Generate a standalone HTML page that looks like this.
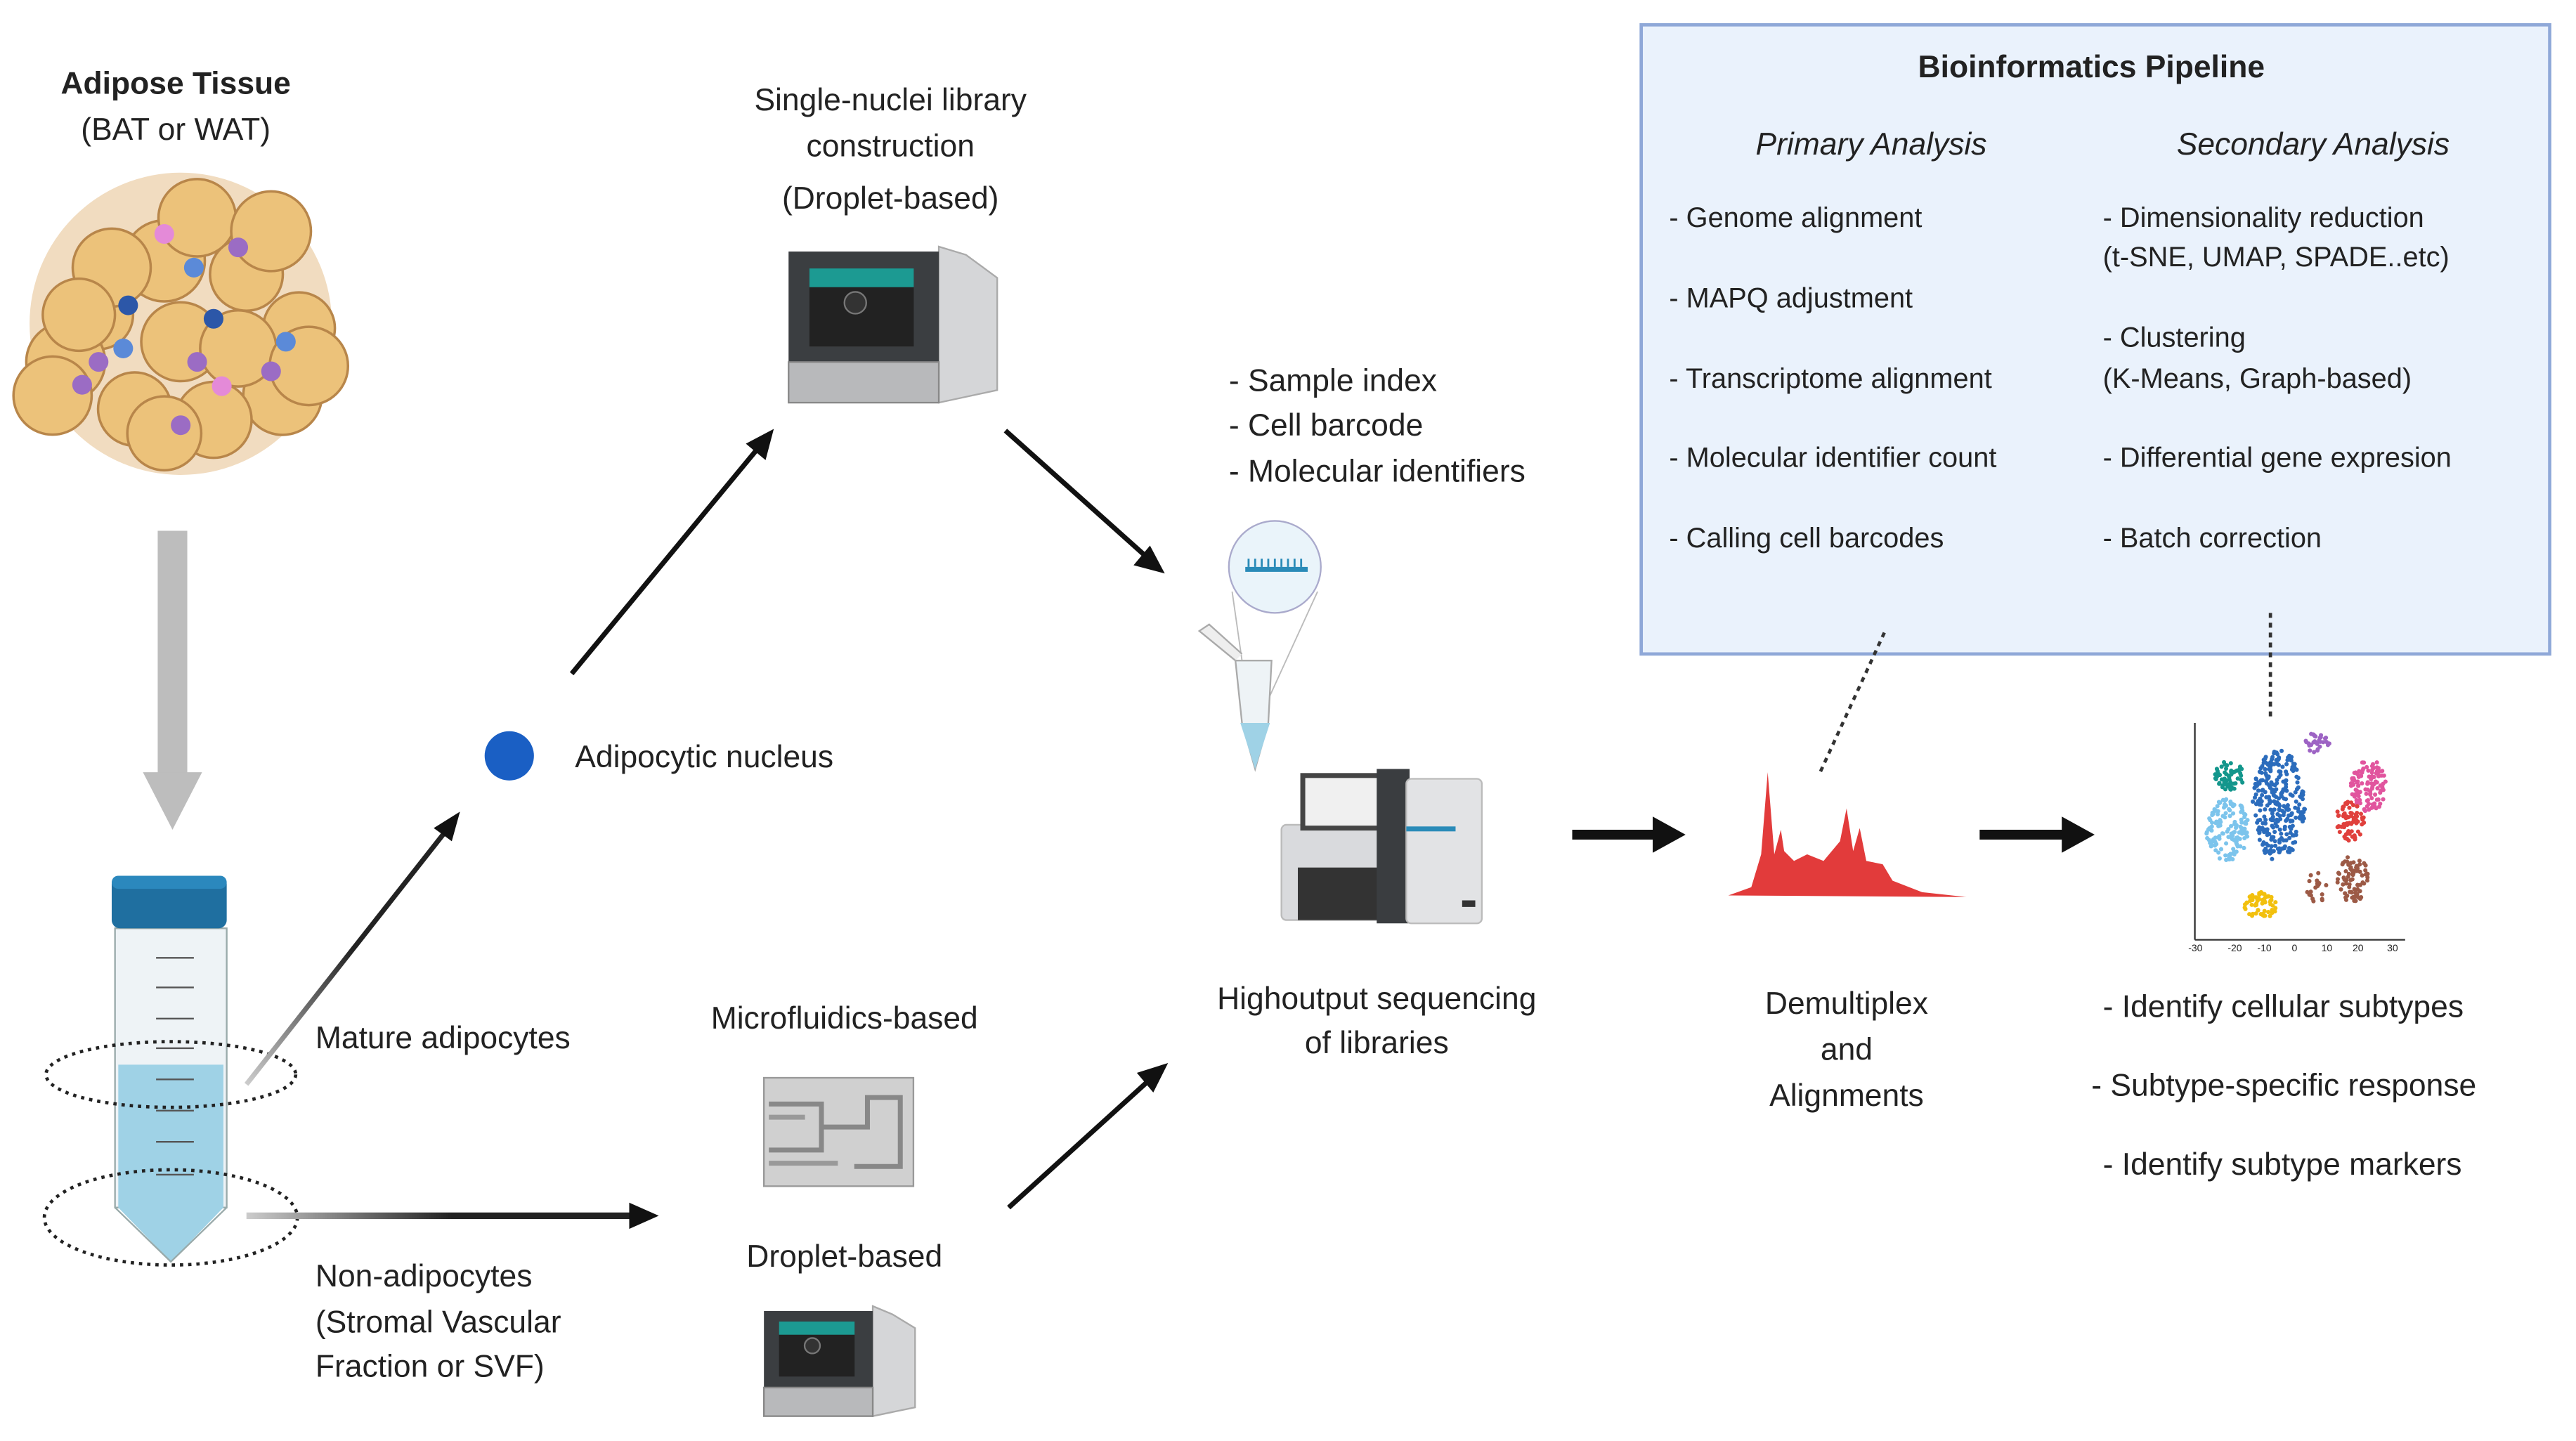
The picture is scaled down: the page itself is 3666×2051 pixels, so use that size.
<!DOCTYPE html>
<html><head><meta charset="utf-8">
<style>
html,body{margin:0;padding:0;background:#fff;}
svg{display:block;}
text{font-family:"Liberation Sans",sans-serif;fill:#222;}
</style></head>
<body>
<svg id="s" width="3666" height="2051" viewBox="0 0 1568 877" xmlns="http://www.w3.org/2000/svg">
<defs>
<linearGradient id="hg" gradientUnits="userSpaceOnUse" x1="150" y1="740" x2="400" y2="740"><stop offset="0" stop-color="#ccc"/><stop offset="0.5" stop-color="#222"/></linearGradient>
<linearGradient id="dg" gradientUnits="userSpaceOnUse" x1="150" y1="660" x2="280" y2="495"><stop offset="0" stop-color="#ccc"/><stop offset="0.5" stop-color="#222"/></linearGradient>
</defs>

<!-- Bioinformatics box -->
<rect x="999" y="15" width="553" height="383" fill="#eaf2fc" stroke="#8fa8d8" stroke-width="2"/>
<text x="1273" y="47" font-size="19" font-weight="bold" text-anchor="middle">Bioinformatics Pipeline</text>
<text x="1139" y="94" font-size="19" font-style="italic" text-anchor="middle">Primary Analysis</text>
<text x="1408" y="94" font-size="19" font-style="italic" text-anchor="middle">Secondary Analysis</text>
<g font-size="17">
<text x="1016" y="138">- Genome alignment</text>
<text x="1016" y="187">- MAPQ adjustment</text>
<text x="1016" y="236">- Transcriptome alignment</text>
<text x="1016" y="284">- Molecular identifier count</text>
<text x="1016" y="333">- Calling cell barcodes</text>
<text x="1280" y="138">- Dimensionality reduction</text>
<text x="1280" y="162">(t-SNE, UMAP,  SPADE..etc)</text>
<text x="1280" y="211">- Clustering</text>
<text x="1280" y="236">(K-Means, Graph-based)</text>
<text x="1280" y="284">- Differential gene expresion</text>
<text x="1280" y="333">- Batch correction</text>
</g>
<line x1="1147" y1="385" x2="1107" y2="472" stroke="#333" stroke-width="2" stroke-dasharray="3,3"/>
<line x1="1382" y1="373" x2="1382" y2="438" stroke="#333" stroke-width="2" stroke-dasharray="3,3"/>

<!-- Adipose tissue -->
<text x="107" y="57" font-size="19" font-weight="bold" text-anchor="middle">Adipose Tissue</text>
<text x="107" y="85" font-size="19" text-anchor="middle">(BAT or WAT)</text>
<g id="tissue" stroke="#b8864a" stroke-width="1.5"></g>

<!-- gray arrow -->
<rect x="96" y="323" width="18" height="150" fill="#bdbdbd"/>
<polygon points="87,470 123,470 105,505" fill="#bdbdbd"/>

<!-- tube -->
<rect x="70" y="565" width="68" height="170" fill="#eef3f6" stroke="#9aa" stroke-width="1"/>
<path d="M72,648 L136,648 L136,735 L104,768 L72,735 Z" fill="#9fd2e6"/>
<path d="M70,735 L104,768 L138,735" fill="none" stroke="#9aa"/>
<rect x="68" y="533" width="70" height="32" rx="5" fill="#1f6fa0"/>
<rect x="68" y="533" width="70" height="8" rx="4" fill="#2b88bd"/>
<g stroke="#555" stroke-width="1">
<line x1="95" y1="583" x2="118" y2="583"/><line x1="95" y1="601" x2="118" y2="601"/><line x1="95" y1="620" x2="118" y2="620"/><line x1="95" y1="638" x2="118" y2="638"/><line x1="95" y1="657" x2="118" y2="657"/><line x1="95" y1="676" x2="118" y2="676"/><line x1="95" y1="695" x2="118" y2="695"/><line x1="95" y1="715" x2="118" y2="715"/>
</g>
<ellipse cx="104" cy="654" rx="76" ry="20" fill="none" stroke="#222" stroke-width="2" stroke-dasharray="2,3"/>
<ellipse cx="104" cy="741" rx="77" ry="29" fill="none" stroke="#222" stroke-width="2" stroke-dasharray="2,3"/>

<!-- arrows left -->
<line x1="150" y1="660" x2="272" y2="505" stroke="url(#dg)" stroke-width="3"/>
<polygon points="280,494 264,504 275,512" fill="#111"/>
<rect x="150" y="738" width="236" height="4" fill="url(#hg)"/>
<polygon points="401,740 383,732 383,748" fill="#111"/>

<text x="192" y="638" font-size="19">Mature adipocytes</text>
<text x="192" y="783" font-size="19">Non-adipocytes</text>
<text x="192" y="811" font-size="19">(Stromal Vascular</text>
<text x="192" y="838" font-size="19">Fraction or SVF)</text>

<circle cx="310" cy="460" r="15" fill="#1a5fc4"/>
<text x="350" y="467" font-size="19">Adipocytic nucleus</text>

<line x1="348" y1="410" x2="462" y2="272" stroke="#111" stroke-width="3"/>
<polygon points="471,261 454,270 466,280" fill="#111"/>
<line x1="612" y1="262" x2="698" y2="339" stroke="#111" stroke-width="3"/>
<polygon points="709,349 700,332 690,344" fill="#111"/>
<line x1="614" y1="735" x2="700" y2="657" stroke="#111" stroke-width="3"/>
<polygon points="711,647 692,653 702,665" fill="#111"/>

<!-- top instrument -->
<text x="542" y="67" font-size="19" text-anchor="middle">Single-nuclei library</text>
<text x="542" y="95" font-size="19" text-anchor="middle">construction</text>
<text x="542" y="127" font-size="19" text-anchor="middle">(Droplet-based)</text>
<g id="inst1"></g>

<!-- microfluidics -->
<text x="514" y="626" font-size="19" text-anchor="middle">Microfluidics-based</text>
<rect x="465" y="656" width="91" height="66" fill="#d0d0d0" stroke="#999"/>
<path d="M468,672 H500 V700 H468 M500,686 H528 V668 H548 V710 H520" fill="none" stroke="#888" stroke-width="3"/>
<path d="M468,708 H510 M468,680 H490" fill="none" stroke="#999" stroke-width="3"/>
<text x="514" y="771" font-size="19" text-anchor="middle">Droplet-based</text>
<g id="inst2"></g>

<!-- sample index -->
<text x="748" y="238" font-size="19">- Sample index</text>
<text x="748" y="265" font-size="19">- Cell barcode</text>
<text x="748" y="293" font-size="19">- Molecular identifiers</text>
<circle cx="776" cy="345" r="28" fill="#eaf4fa" stroke="#aac" stroke-width="1"/>
<rect x="758" y="345" width="38" height="3" fill="#2a8bb8"/>
<g stroke="#2a8bb8" stroke-width="1.2"><line x1="760" y1="340" x2="760" y2="345"/><line x1="764" y1="340" x2="764" y2="345"/><line x1="768" y1="340" x2="768" y2="345"/><line x1="772" y1="340" x2="772" y2="345"/><line x1="776" y1="340" x2="776" y2="345"/><line x1="780" y1="340" x2="780" y2="345"/><line x1="784" y1="340" x2="784" y2="345"/><line x1="788" y1="340" x2="788" y2="345"/><line x1="792" y1="340" x2="792" y2="345"/></g>
<line x1="750" y1="360" x2="760" y2="430" stroke="#bbb" stroke-width="0.8"/>
<line x1="802" y1="360" x2="770" y2="430" stroke="#bbb" stroke-width="0.8"/>
<path d="M752,402 L774,402 L772,440 L764,468 L756,440 Z" fill="#eef3f6" stroke="#aaa"/>
<path d="M755,440 L773,440 L764,468 Z" fill="#9fd2e6"/>
<path d="M752,402 L730,384 L736,380 L756,398" fill="#eee" stroke="#aaa"/>

<!-- sequencer -->
<rect x="780" y="502" width="62" height="58" rx="3" fill="#d9dadd" stroke="#bbb"/>
<rect x="793" y="472" width="48" height="32" fill="#f0f0f0" stroke="#444" stroke-width="3"/>
<rect x="790" y="528" width="50" height="32" fill="#333"/>
<rect x="838" y="468" width="20" height="94" fill="#3a3d40"/>
<rect x="856" y="474" width="46" height="88" rx="3" fill="#e2e3e5" stroke="#bbb"/>
<rect x="856" y="503" width="30" height="3" fill="#2a8bb8"/>
<rect x="890" y="548" width="8" height="4" fill="#333"/>
<text x="838" y="614" font-size="19" text-anchor="middle">Highoutput sequencing</text>
<text x="838" y="641" font-size="19" text-anchor="middle">of libraries</text>

<!-- arrows right -->
<rect x="957" y="505" width="52" height="6" fill="#111"/>
<polygon points="1026,508 1006,497 1006,519" fill="#111"/>
<rect x="1205" y="505" width="52" height="6" fill="#111"/>
<polygon points="1275,508 1255,497 1255,519" fill="#111"/>

<!-- peaks -->
<path d="M1052,545 L1066,540 L1072,520 L1076,470 L1080,520 L1084,505 L1086,518 L1092,524 L1100,520 L1110,524 L1120,512 L1124,492 L1128,518 L1132,504 L1136,524 L1146,526 L1152,536 L1170,543 L1197,546 Z" fill="#e23b3b"/>

<text x="1124" y="617" font-size="19" text-anchor="middle">Demultiplex</text>
<text x="1124" y="645" font-size="19" text-anchor="middle">and</text>
<text x="1124" y="673" font-size="19" text-anchor="middle">Alignments</text>

<!-- tsne -->
<g id="tsne"></g>
<line x1="1336" y1="440" x2="1336" y2="572" stroke="#333" stroke-width="1"/>
<line x1="1336" y1="572" x2="1464" y2="572" stroke="#333" stroke-width="1"/>
<g fill="#333">
<text x="1332" y="579" style="font-size:6px">-30</text><text x="1356" y="579" style="font-size:6px">-20</text><text x="1374" y="579" style="font-size:6px">-10</text><text x="1395" y="579" style="font-size:6px">0</text><text x="1413" y="579" style="font-size:6px">10</text><text x="1432" y="579" style="font-size:6px">20</text><text x="1453" y="579" style="font-size:6px">30</text>
</g>

<text x="1280" y="619" font-size="19">- Identify cellular subtypes</text>
<text x="1273" y="667" font-size="19">- Subtype-specific response</text>
<text x="1280" y="715" font-size="19">- Identify subtype markers</text>
</svg>
<script>
var NS="http://www.w3.org/2000/svg";
function el(p,t,a){var e=document.createElementNS(NS,t);for(var k in a)e.setAttribute(k,a[k]);p.appendChild(e);return e;}
var seed=7;function rnd(){seed=(seed*16807)%2147483647;return seed/2147483647;}
var T=document.getElementById('tissue');
el(T,'circle',{cx:110,cy:197,r:92,fill:'#f1dcc0',stroke:'none'});
function ty(y){return 130+(y-105)*0.82;}
var cells=[[60,180],[100,140],[150,150],[182,190],[172,240],[130,258],[82,250],[40,215],[110,200],[145,205],[68,145],[120,108],[165,118],[48,180],[100,268],[188,218],[32,240]];
cells.forEach(function(c){el(T,'circle',{cx:c[0],cy:ty(c[1]),r:21+rnd()*4,fill:'#ecc27a'});});
[[118,145,'#5b8ad8'],[78,173,'#2c57a8'],[130,183,'#2c57a8'],[75,205,'#5b8ad8'],[174,200,'#5b8ad8'],[60,215,'#9b6cc4'],[120,215,'#9b6cc4'],[165,222,'#9b6cc4'],[110,262,'#9b6cc4'],[135,233,'#e48ad8'],[100,120,'#e48ad8'],[145,130,'#9b6cc4'],[50,232,'#9b6cc4']].forEach(function(c){el(T,'circle',{cx:c[0],cy:ty(c[1]),r:6,fill:c[2],stroke:'none'});});
function inst(g,x,y,w,h){var G=document.getElementById(g);
el(G,'path',{d:'M'+(x+w*0.72)+','+y+' L'+(x+w*0.85)+','+(y+5)+' L'+(x+w)+','+(y+h*0.2)+' L'+(x+w)+','+(y+h*0.92)+' L'+(x+w*0.72)+','+(y+h)+' Z',fill:'#d5d6d8',stroke:'#aaa'});
el(G,'rect',{x:x,y:y+3,width:w*0.72,height:h*0.72,fill:'#3b3e41'});
el(G,'rect',{x:x,y:y+h*0.74,width:w*0.72,height:h*0.26,fill:'#b8b9bb',stroke:'#888'});
el(G,'rect',{x:x+w*0.1,y:y+h*0.14,width:w*0.5,height:h*0.5,fill:'#222'});
el(G,'rect',{x:x+w*0.1,y:y+h*0.14,width:w*0.5,height:h*0.12,fill:'#1c9a92'});
el(G,'circle',{cx:x+w*0.32,cy:y+h*0.36,r:h*0.07,fill:'#333',stroke:'#777'});}
inst('inst1',480,150,127,95);
inst('inst2',465,795,92,67);
var S=document.getElementById('tsne');
[[1357,472,9,9,'#13968c',60],[1356,505,13,19,'#7cc4ec',140],[1387,490,16,34,'#2b6cbc',300],[1410,452,8,6,'#9d63c4',30],[1442,478,11,16,'#e1559e',110],[1430,500,9,12,'#e0403c',70],[1432,535,10,14,'#9c5a46',80],[1376,551,10,8,'#f2c00e',60],[1410,540,6,10,'#9c5a46',20]].forEach(function(c){
for(var i=0;i<c[5];i++){var a=rnd()*6.283,r=Math.sqrt(rnd());el(S,'circle',{cx:c[0]+Math.cos(a)*r*c[2],cy:c[1]+Math.sin(a)*r*c[3],r:1.3,fill:c[4]});}});
</script>
</body></html>
